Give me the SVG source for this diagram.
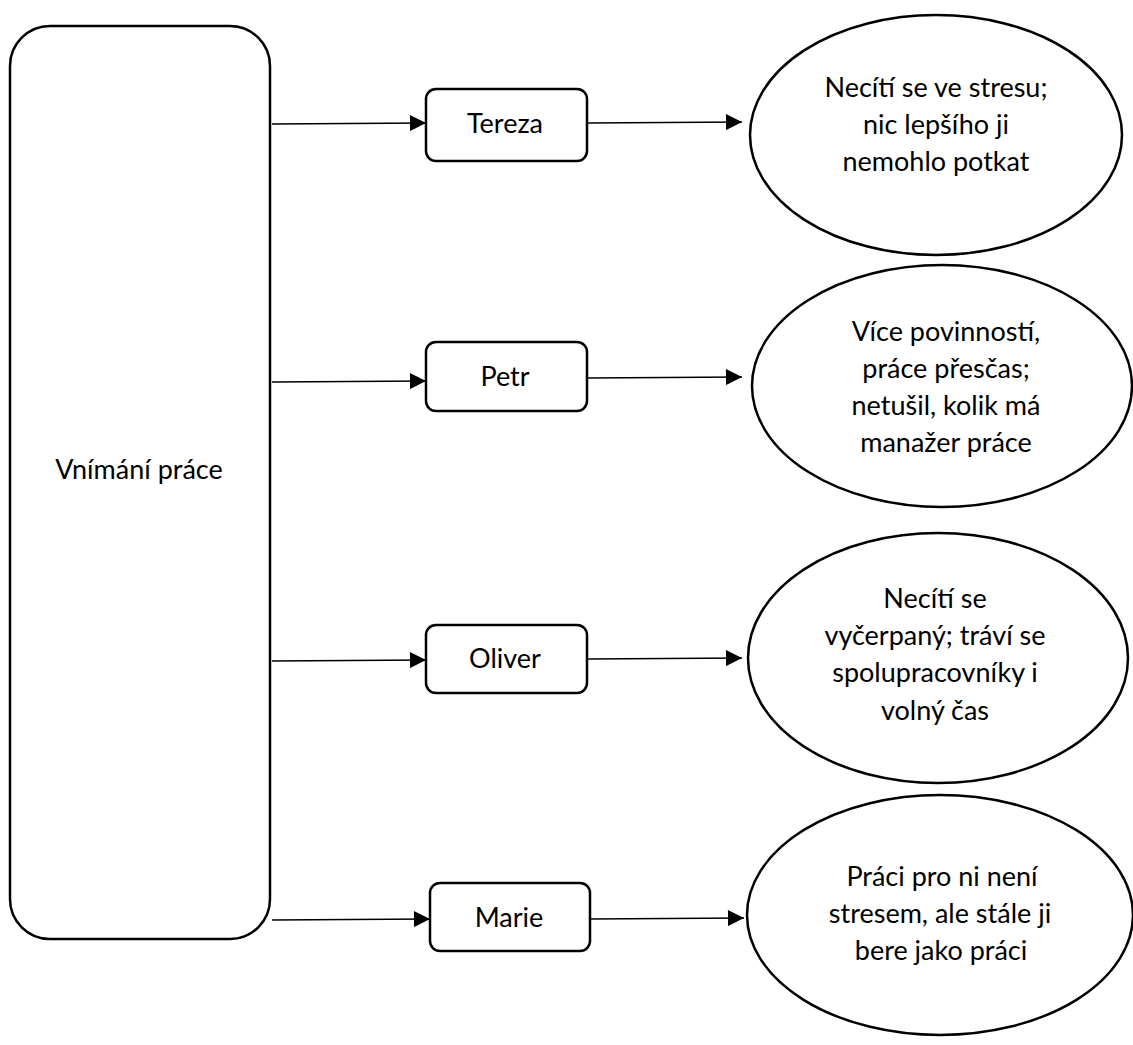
<svg xmlns="http://www.w3.org/2000/svg" width="1133" height="1045" viewBox="0 0 1133 1045">
<style>
.n{fill:#fff;stroke:#000;stroke-width:2.5}
.c{stroke:#000;stroke-width:1.3;fill:none;marker-end:url(#ah)}
text{font-family:Lato,"Open Sans","Liberation Sans",sans-serif;font-size:27px;fill:#000;text-anchor:middle}
</style>
<defs>
<marker id="ah" viewBox="0 0 10 10" refX="10" refY="5" markerUnits="userSpaceOnUse" markerWidth="17" markerHeight="16" orient="auto">
<path d="M0,0 L10,5 L0,10 z" fill="#000"/>
</marker>
</defs>
<rect width="1133" height="1045" fill="#fff"/>
<g id="connectors">
<path class="c" d="M272,124 L426,123"/>
<path class="c" d="M588,123 L742,122"/>
<path class="c" d="M272,382 L426,381"/>
<path class="c" d="M588,378 L742,377"/>
<path class="c" d="M272,661 L426,660"/>
<path class="c" d="M588,659 L742,658"/>
<path class="c" d="M272,920 L430,919"/>
<path class="c" d="M590,919 L744,918"/>
</g>
<g id="root">
<rect class="n" x="10" y="26" width="260" height="913" rx="40"/>
<text x="139" y="479">Vnímání práce</text>
</g>
<g id="tereza">
<rect class="n" x="426" y="89" width="161" height="72" rx="10"/>
<text x="505" y="133">Tereza</text>
</g>
<g id="petr">
<rect class="n" x="426" y="342" width="161" height="69" rx="10"/>
<text x="505" y="386">Petr</text>
</g>
<g id="oliver">
<rect class="n" x="426" y="625" width="161" height="68" rx="10"/>
<text x="505" y="668">Oliver</text>
</g>
<g id="marie">
<rect class="n" x="430" y="883" width="160" height="68" rx="10"/>
<text x="509" y="927">Marie</text>
</g>
<g id="e1">
<ellipse class="n" cx="936" cy="135" rx="186" ry="120"/>
<text x="936" y="97">Necítí se ve stresu;</text>
<text x="936" y="134">nic lepšího ji</text>
<text x="936" y="171">nemohlo potkat</text>
</g>
<g id="e2">
<ellipse class="n" cx="942" cy="386" rx="190" ry="121"/>
<text x="946" y="341">Více povinností,</text>
<text x="946" y="378">práce přesčas;</text>
<text x="946" y="415">netušil, kolik má</text>
<text x="946" y="452">manažer práce</text>
</g>
<g id="e3">
<ellipse class="n" cx="938" cy="658" rx="190" ry="125"/>
<text x="935" y="608">Necítí se</text>
<text x="935" y="645">vyčerpaný; tráví se</text>
<text x="935" y="682">spolupracovníky i</text>
<text x="935" y="720">volný čas</text>
</g>
<g id="e4">
<ellipse class="n" cx="940" cy="915" rx="193" ry="120"/>
<text x="942" y="886">Práci pro ni není</text>
<text x="940" y="923">stresem, ale stále ji</text>
<text x="941" y="960">bere jako práci</text>
</g>
</svg>
